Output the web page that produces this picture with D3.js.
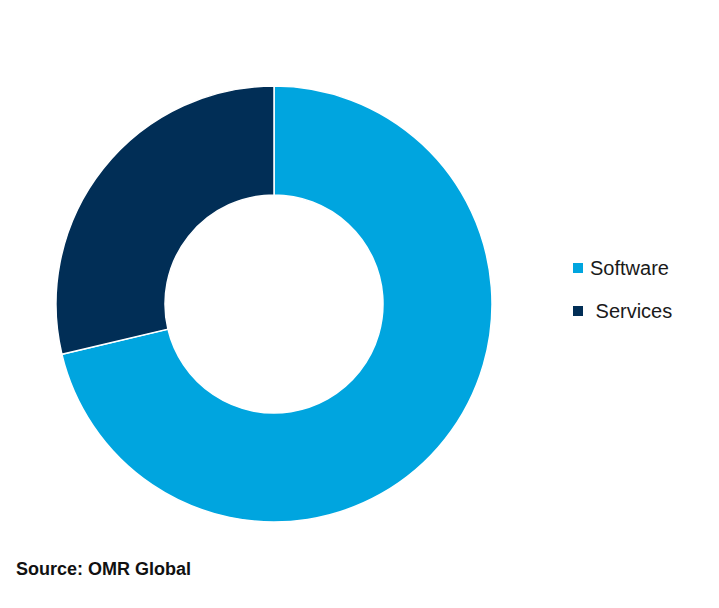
<!DOCTYPE html>
<html><head><meta charset="utf-8">
<script src="https://cdn.jsdelivr.net/npm/d3@7"></script>
<style>body{margin:0;background:#fff}svg{display:block}</style>
</head><body>
<svg id="c" width="719" height="608"></svg>
<script>
const categories = ["Software", "Services"];
const values = [71.3, 28.7];
const colors = ["#00A5DF", "#012E56"];
const legendLabels = ["Software", " Services"];
const sourceText = "Source: OMR Global";

const svg = d3.select("#c");
const cx = 274, cy = 304, rOuter = 218, rInner = 109;
const pie = d3.pie().sort(null).value(d => d)(values);
const arc = d3.arc().innerRadius(rInner).outerRadius(rOuter);
const color = d3.scaleOrdinal().domain(categories).range(colors);

svg.append("g").attr("transform", `translate(${cx},${cy})`)
  .selectAll("path").data(pie).join("path")
  .attr("d", arc)
  .attr("fill", (d, i) => color(categories[i]))
  .attr("stroke", "#fff").attr("stroke-width", 1.5);

const leg = svg.append("g");
const ly = d3.scalePoint().domain(categories).range([268, 311]);
categories.forEach((c, i) => {
  leg.append("rect").attr("x", 573).attr("y", ly(c) - 5).attr("width", 10).attr("height", 10)
    .attr("fill", color(c));
  leg.append("text").attr("x", 590).attr("y", ly(c) + 7)
    .attr("font-family", "Liberation Sans, Arial, sans-serif").attr("font-size", 20)
    .attr("fill", "#1a1a1a").attr("xml:space", "preserve").style("white-space", "pre")
    .text(legendLabels[i]);
});

svg.append("text").attr("x", 16).attr("y", 575)
  .attr("font-family", "Liberation Sans, Arial, sans-serif").attr("font-size", 18)
  .attr("font-weight", "bold").attr("fill", "#111").text(sourceText);
</script>
</body></html>
